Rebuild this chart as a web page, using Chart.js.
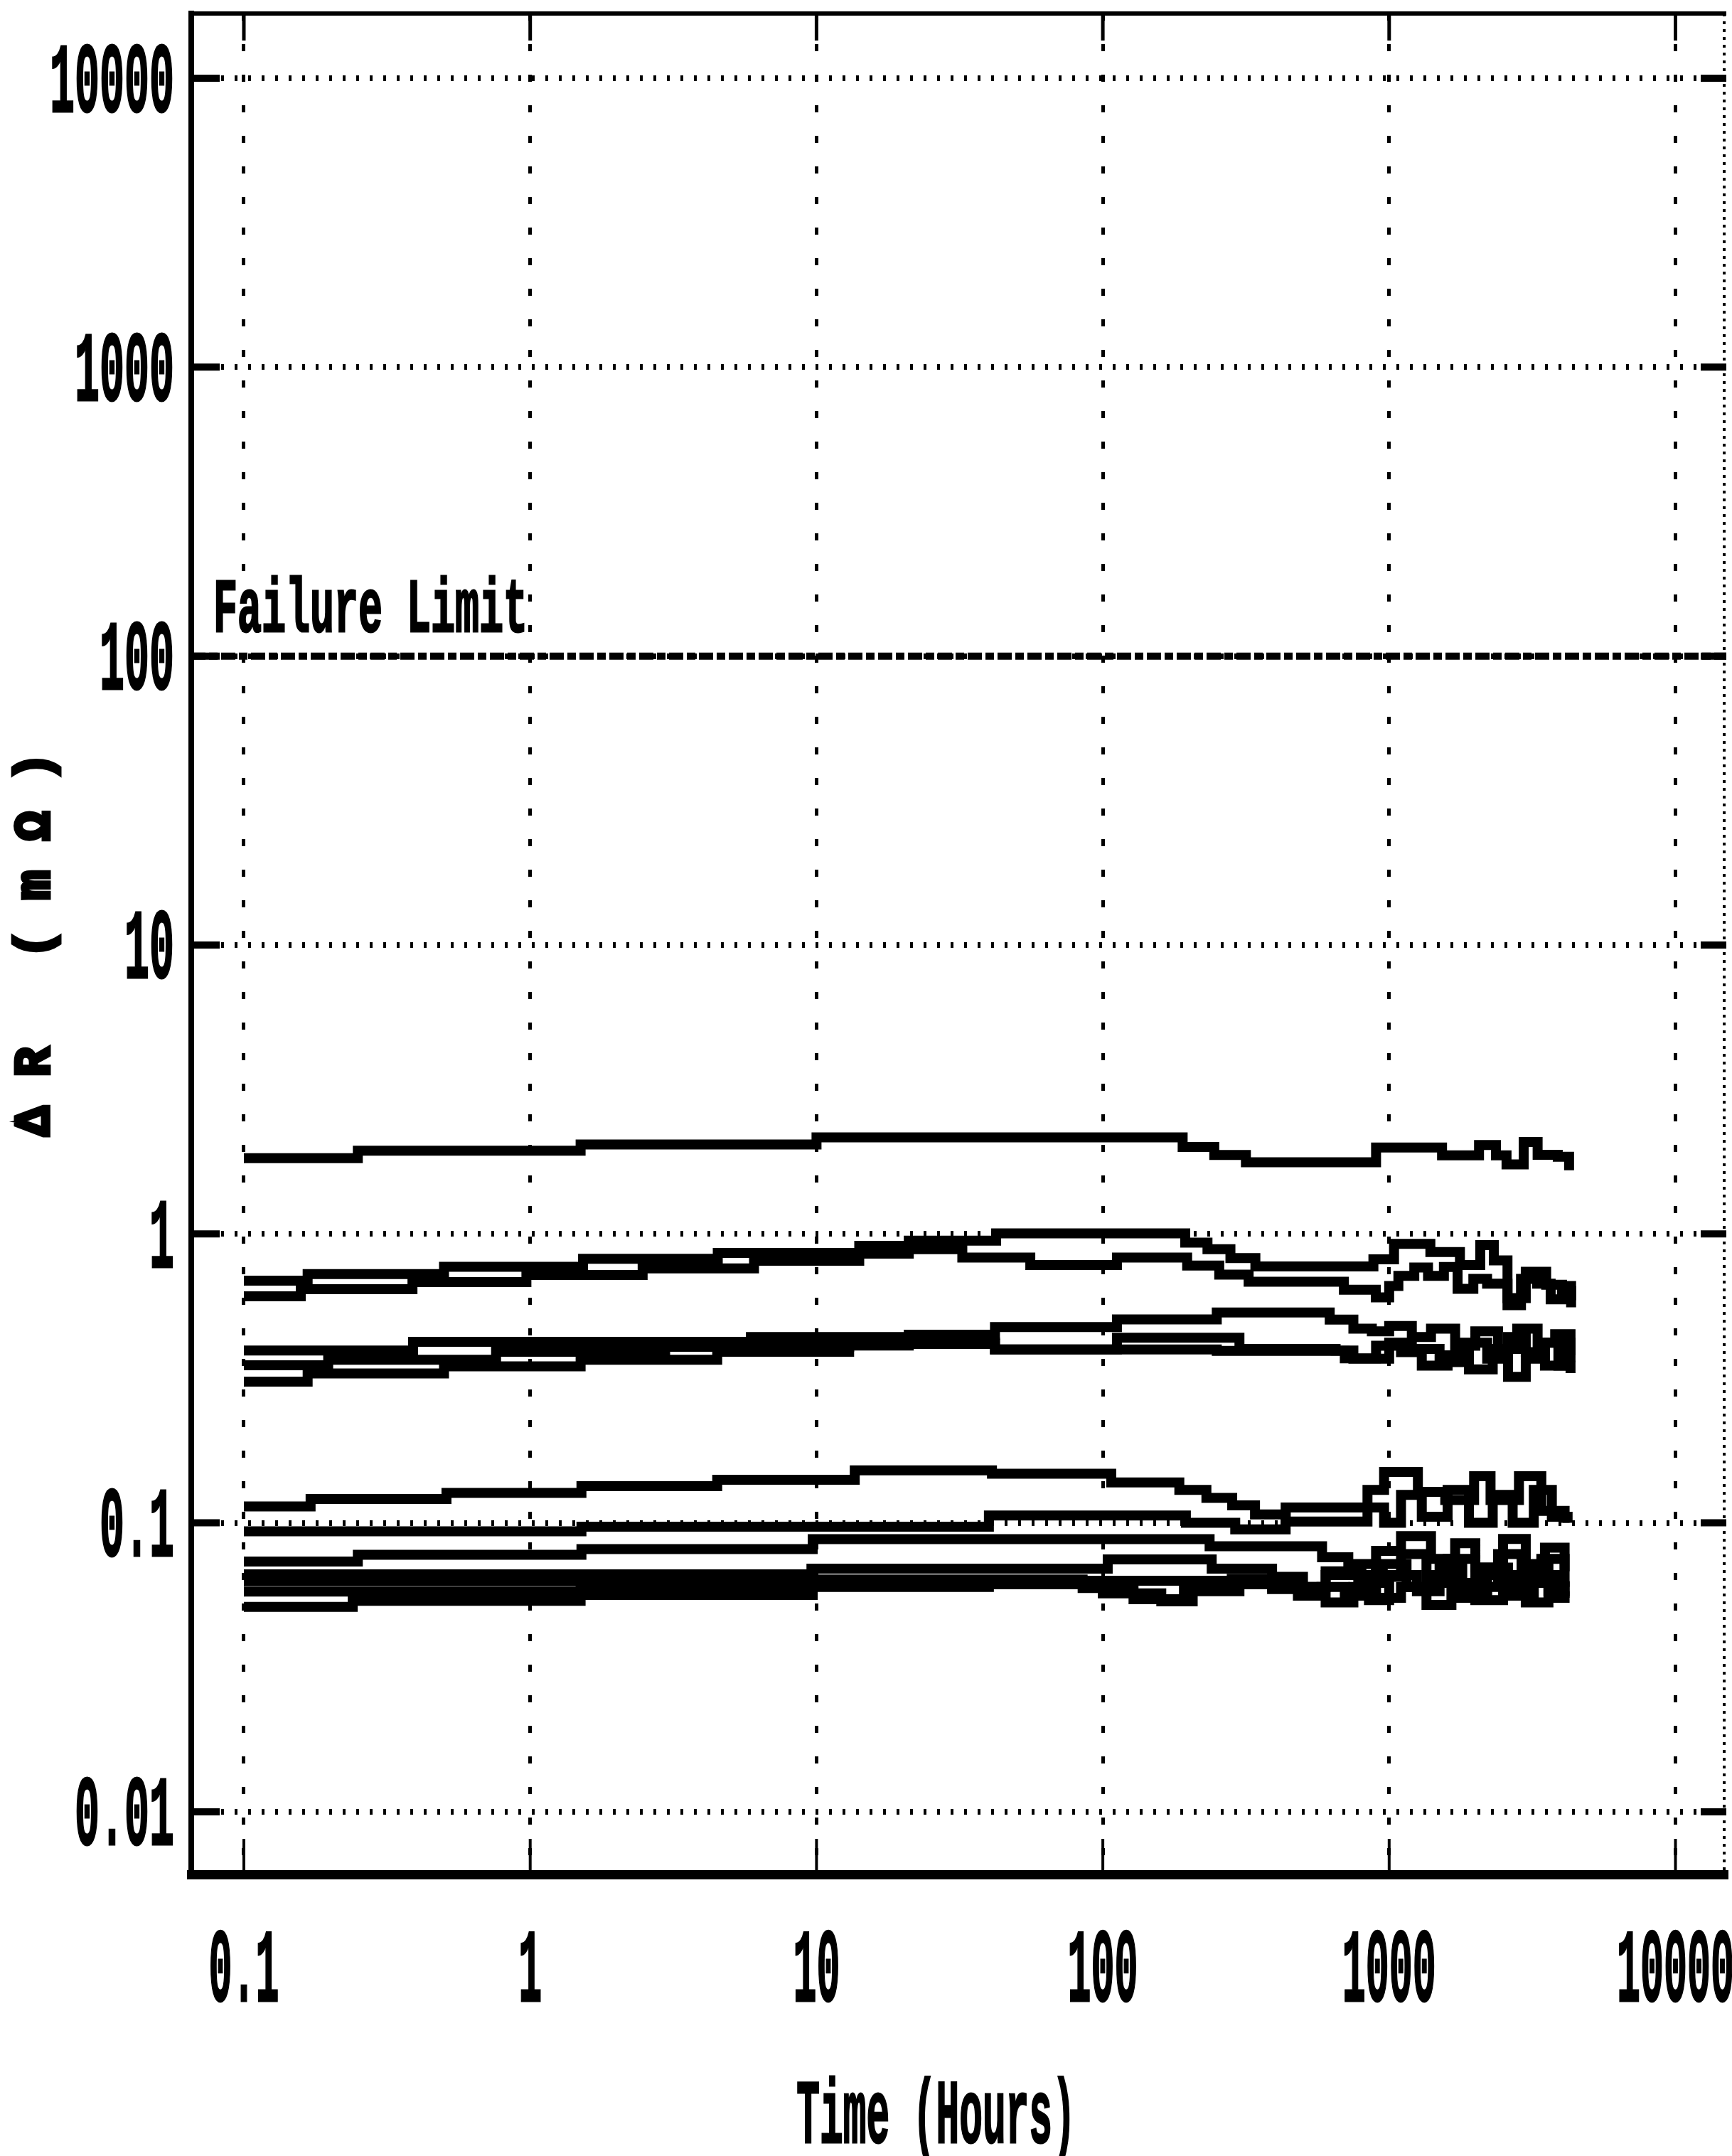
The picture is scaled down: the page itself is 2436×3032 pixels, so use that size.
<!DOCTYPE html>
<html>
<head>
<meta charset="utf-8">
<script src="https://cdn.jsdelivr.net/npm/chart.js@4.4.1/dist/chart.umd.min.js"></script>
<style>
html,body{margin:0;padding:0;background:#fff;}
canvas{display:block;}
</style>
</head>
<body>
<canvas id="c" width="2436" height="3032"></canvas>
<script>
// ---------------- data ----------------
const timeTicks = [0.1, 1, 10, 100, 1000, 10000];
const timeTickLabels = ['0.1', '1', '10', '100', '1000', '10000'];
const resTicks = [0.01, 0.1, 1, 10, 100, 1000, 10000];
const resTickLabels = ['0.01', '0.1', '1', '10', '100', '1000', '10000'];
const timeRange = [0.0655, 15050];
const resRange = [0.00607, 16750];
const failureLimit = 100;
const failureLabel = 'Failure Limit';
const xTitle = 'Time (Hours)';
const yTitle = 'ΔR (mΩ)';

// each point: [hours, value]; value holds until the next point
const seriesA = [[0.1,1.83],[0.25,1.94],[1.5,2.04],[10,2.16],[190,2.0],[245,1.875],[316,1.77],[900,1.99],[1530,1.87],[2060,2.03],[2360,1.87],[2570,1.74],[2950,2.08],[3300,1.88],[3880,1.85],[4250,1.66]];

const seriesB1 = [[0.1,0.689],[0.167,0.726],[0.5,0.77],[1.53,0.82],[4.52,0.86],[14.1,0.91],[21,0.948],[42.4,1.004],[194,0.933],[232,0.885],[279,0.825],[341,0.772],[881,0.817],[1040,0.924],[1393,0.865],[1767,0.78],[2080,0.915],[2320,0.81],[2590,0.6],[3000,0.74],[3535,0.667],[4015,0.635],[4320,0.59]];
const seriesB2 = [[0.1,0.608],[0.158,0.644],[0.388,0.681],[0.97,0.721],[2.47,0.76],[6.05,0.807],[14.1,0.855],[21,0.885],[32.3,0.828],[55.8,0.78],[112,0.828],[197,0.777],[255,0.723],[323,0.683],[695,0.641],[898,0.603],[1000,0.66],[1077,0.716],[1224,0.765],[1367,0.716],[1553,0.768],[1734,0.646],[1968,0.699],[2198,0.673],[2590,0.567],[2887,0.699],[3285,0.673],[3665,0.594],[4015,0.66],[4320,0.557]];

const seriesC1 = [[0.1,0.395],[0.39,0.423],[5.9,0.44],[21,0.448],[42,0.476],[112,0.506],[250,0.535],[620,0.505],[750,0.47],[870,0.46],[1000,0.48],[1200,0.44],[1400,0.47],[1700,0.41],[2000,0.46],[2400,0.40],[2800,0.47],[3300,0.42],[3800,0.45],[4300,0.38]];
const seriesC2 = [[0.1,0.351],[0.197,0.367],[0.76,0.391],[2.96,0.407],[13,0.416],[42,0.398],[112,0.437],[300,0.40],[650,0.395],[750,0.37],[1000,0.42],[1200,0.40],[1500,0.36],[1800,0.42],[2200,0.37],[2600,0.44],[3000,0.39],[3500,0.35],[4000,0.42],[4300,0.36]];
const seriesC3 = [[0.1,0.308],[0.167,0.329],[0.5,0.348],[1.5,0.367],[4.5,0.391],[13,0.411],[21,0.421],[42,0.398],[250,0.394],[700,0.371],[900,0.41],[1100,0.39],[1300,0.35],[1600,0.38],[1900,0.34],[2300,0.40],[2600,0.32],[3000,0.37],[3500,0.42],[3900,0.35],[4300,0.33]];

const seriesD1 = [[0.1,0.114],[0.171,0.121],[0.51,0.127],[1.51,0.134],[4.5,0.141],[13.6,0.152],[41,0.148],[107,0.138],[185,0.13],[230,0.122],[283,0.115],[340,0.107],[435,0.101],[840,0.13],[960,0.15],[1260,0.128],[1570,0.12],[1980,0.145],[2260,0.12],[2840,0.145],[3400,0.11],[4100,0.1]];
const seriesD2 = [[0.1,0.0935],[1.51,0.097],[40,0.106],[195,0.1],[290,0.095],[435,0.113],[960,0.1],[1100,0.125],[1300,0.105],[1600,0.13],[1900,0.1],[2300,0.125],[2700,0.1],[3200,0.13],[3700,0.105],[4200,0.1]];
const seriesD3 = [[0.1,0.0735],[0.25,0.0775],[1.51,0.0811],[9.7,0.0878],[236,0.083],[583,0.076],[720,0.07],[800,0.066],[900,0.08],[1100,0.09],[1400,0.075],[1700,0.085],[2000,0.07],[2500,0.088],[3000,0.072],[3500,0.082],[4100,0.068]];
const seriesD4 = [[0.1,0.0663],[9.6,0.0694],[104,0.0747],[240,0.0694],[390,0.065],[500,0.06],[600,0.066],[750,0.072],[900,0.065],[1100,0.078],[1350,0.062],[1600,0.075],[2000,0.06],[2400,0.078],[2900,0.062],[3400,0.075],[4100,0.06]];
const seriesD5 = [[0.1,0.0628],[9.6,0.0637],[85,0.0595],[128,0.0544],[192,0.0593],[282,0.064],[390,0.059],[580,0.06],[700,0.056],[850,0.054],[1000,0.066],[1250,0.058],[1500,0.07],[1800,0.058],[2200,0.066],[2700,0.056],[3200,0.066],[3800,0.055],[4100,0.058]];
const seriesD6 = [[0.1,0.0578],[1.5,0.06],[9.7,0.0613],[40,0.063],[390,0.06],[600,0.068],[780,0.062],[950,0.072],[1150,0.06],[1450,0.066],[1750,0.055],[2150,0.07],[2600,0.06],[3100,0.07],[3600,0.058],[4100,0.063]];
const seriesD7 = [[0.1,0.0512],[0.24,0.0537],[1.5,0.0563],[9.7,0.06],[40,0.0613],[100,0.057],[160,0.0535],[206,0.058],[300,0.0613],[480,0.056],[600,0.053],[750,0.06],[900,0.055],[1100,0.06],[1350,0.052],[1650,0.062],[2000,0.054],[2500,0.063],[3000,0.053],[3600,0.06],[4100,0.055]];

const allSeries = [seriesA, seriesB1, seriesB2, seriesC1, seriesC2, seriesC3,
                   seriesD1, seriesD2, seriesD3, seriesD4, seriesD5, seriesD6, seriesD7];

// ---------------- rendering ----------------
const FONT = '"Liberation Mono", "DejaVu Sans Mono", monospace';

function fitSize(ctx, capH, sample) {
  ctx.font = 'bold 100px ' + FONT;
  const m = ctx.measureText(sample);
  return 100 * capH / m.actualBoundingBoxAscent;
}
function drawSqueezed(ctx, text, x, yMid, capH, advance, align, sample) {
  const size = fitSize(ctx, capH, sample || '0');
  ctx.font = 'bold ' + size + 'px ' + FONT;
  const w = ctx.measureText(text).width;
  const sx = advance * text.length / w;
  ctx.save();
  ctx.translate(x, yMid + capH / 2);
  ctx.scale(sx, 1);
  ctx.textAlign = align;
  ctx.textBaseline = 'alphabetic';
  ctx.fillStyle = '#000';
  ctx.lineWidth = 3;
  ctx.strokeStyle = '#000';
  ctx.strokeText(text, 0, 0);
  ctx.fillText(text, 0, 0);
  ctx.restore();
}

const decor = {
  id: 'decor',
  afterDraw(chart) {
    const ctx = chart.ctx;
    const a = chart.chartArea;
    const xs = chart.scales.x, ys = chart.scales.y;
    ctx.save();
    ctx.strokeStyle = '#000';
    ctx.fillStyle = '#000';
    // top frame
    ctx.lineWidth = 6;
    ctx.beginPath(); ctx.moveTo(a.left - 4, a.top); ctx.lineTo(a.right, a.top); ctx.stroke();
    // right dotted frame
    ctx.lineWidth = 4; ctx.setLineDash([4, 7]);
    ctx.beginPath(); ctx.moveTo(a.right - 3, a.top); ctx.lineTo(a.right - 3, a.bottom); ctx.stroke();
    ctx.setLineDash([]);
    // inner major ticks on y
    ctx.lineWidth = 10;
    resTicks.forEach(v => {
      const py = ys.getPixelForValue(v);
      ctx.beginPath(); ctx.moveTo(a.left, py); ctx.lineTo(a.left + 40, py); ctx.stroke();
      ctx.beginPath(); ctx.moveTo(a.right - 36, py); ctx.lineTo(a.right, py); ctx.stroke();
    });
    // inner major ticks on x
    timeTicks.forEach(v => {
      const px = xs.getPixelForValue(v);
      ctx.lineWidth = 4;
      ctx.beginPath(); ctx.moveTo(px, a.bottom); ctx.lineTo(px, a.bottom - 50); ctx.stroke();
      ctx.lineWidth = 5;
      ctx.beginPath(); ctx.moveTo(px, a.top); ctx.lineTo(px, a.top + 38); ctx.stroke();
    });
    // tick labels
    resTicks.forEach((v, i) => {
      drawSqueezed(ctx, resTickLabels[i], a.left - 24, ys.getPixelForValue(v), 93, 35, 'right');
    });
    timeTicks.forEach((v, i) => {
      drawSqueezed(ctx, timeTickLabels[i], xs.getPixelForValue(v), 2765, 98, 33, 'center');
    });
    // x title
    drawSqueezed(ctx, xTitle, (a.left + a.right) / 2 - 32, 2970, 86, 32.7, 'center', 'T');
    // failure limit label
    const fy = ys.getPixelForValue(failureLimit);
    drawSqueezed(ctx, failureLabel, a.left + 31, fy - 35 - 36, 72, 34, 'left', 'F');
    // y title (rotated, letter-spaced)
    ctx.save();
    ctx.translate(46, (a.top + a.bottom) / 2);
    ctx.rotate(-Math.PI / 2);
    const sz = fitSize(ctx, 46, 'R');
    ctx.font = 'bold ' + sz + 'px ' + FONT;
    const adv = ctx.measureText('M').width;
    let ls = 0;
    if ('letterSpacing' in ctx) { ls = Math.max(0, 83 - adv); ctx.letterSpacing = ls + 'px'; }
    ctx.textAlign = 'center';
    ctx.textBaseline = 'alphabetic';
    ctx.lineWidth = 5;
    ctx.strokeText(yTitle, ls / 2, 23);
    ctx.fillText(yTitle, ls / 2, 23);
    ctx.restore();
    ctx.restore();
  }
};

const toPoints = s => s.map(p => ({x: p[0], y: p[1]}));
const datasets = [];
allSeries.forEach(s => {
  datasets.push({
    data: toPoints(s),
    borderColor: '#000',
    backgroundColor: '#000',
    borderWidth: 14,
    pointRadius: 0,
    stepped: 'before',
    fill: false,
    borderCapStyle: 'butt',
    borderJoinStyle: 'miter'
  });
});
// dot-matrix texture: fine white dots running along each trace
allSeries.forEach(s => {
  datasets.push({
    data: toPoints(s),
    borderColor: '#fff',
    borderWidth: 3,
    borderDash: [3, 10],
    pointRadius: 0,
    stepped: 'before',
    fill: false,
    borderCapStyle: 'butt'
  });
});
datasets.push({
  data: [{x: timeRange[0], y: failureLimit}, {x: timeRange[1], y: failureLimit}],
  borderColor: '#000',
  borderWidth: 10,
  borderDash: [20, 5, 12, 5],
  pointRadius: 0,
  fill: false
});

new Chart(document.getElementById('c'), {
  type: 'line',
  data: { datasets },
  options: {
    responsive: false,
    devicePixelRatio: 1,
    animation: false,
    events: [],
    layout: { padding: { top: 19, right: 8, left: 0, bottom: 0 } },
    plugins: { legend: { display: false }, tooltip: { enabled: false }, title: { display: false } },
    scales: {
      x: {
        type: 'logarithmic',
        min: timeRange[0], max: timeRange[1],
        afterBuildTicks: ax => { ax.ticks = timeTicks.map(v => ({ value: v })); },
        afterFit: ax => { ax.height = 396; },
        ticks: { display: false },
        grid: { color: '#000', lineWidth: 5, drawTicks: false },
        border: { display: true, color: '#000', width: 13, dash: [10, 33] },
        title: { display: false, text: xTitle }
      },
      y: {
        type: 'logarithmic',
        min: resRange[0], max: resRange[1],
        afterBuildTicks: ax => { ax.ticks = resTicks.map(v => ({ value: v })); },
        afterFit: ax => { ax.width = 269; },
        ticks: { display: false },
        grid: { color: '#000', lineWidth: 8, drawTicks: false },
        border: { display: true, color: '#000', width: 8, dash: [4, 15] },
        title: { display: false, text: yTitle }
      }
    }
  },
  plugins: [decor]
});
</script>
</body>
</html>
